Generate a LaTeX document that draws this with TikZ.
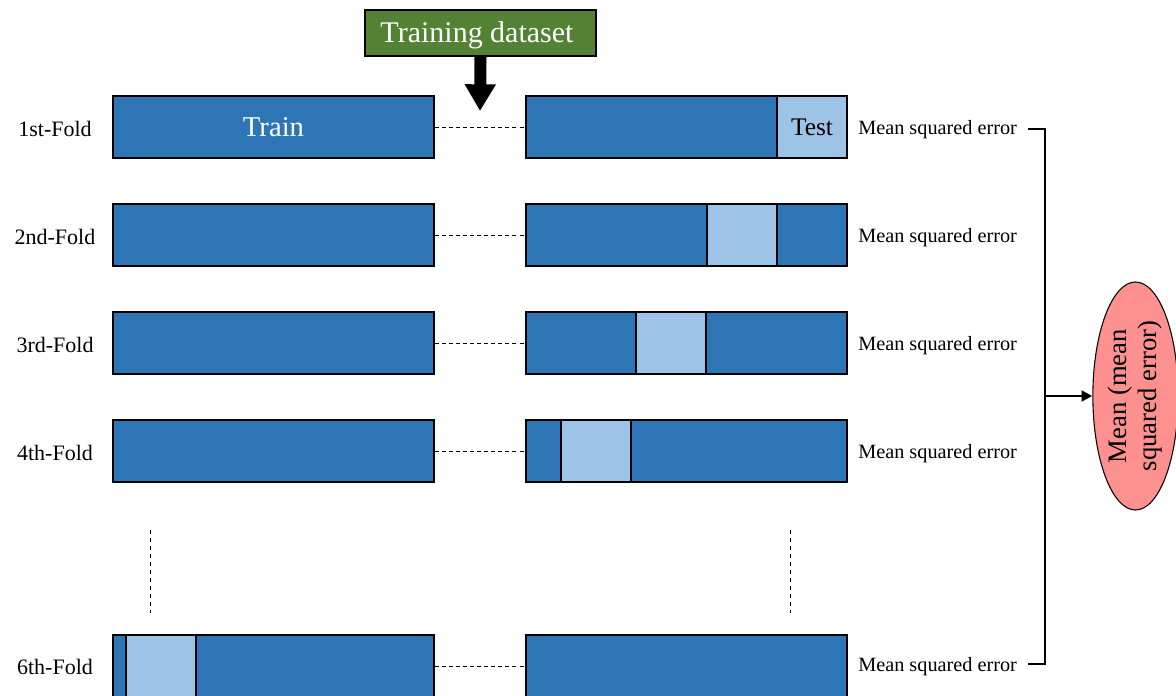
\documentclass[tikz,border=0pt]{standalone}
\usepackage{fontspec}
\setmainfont{Liberation Serif}
\usetikzlibrary{shapes.geometric,arrows.meta}
\definecolor{dblue}{HTML}{2E75B6}
\definecolor{lblue}{HTML}{9DC3E6}
\definecolor{dgreen}{HTML}{548235}
\definecolor{salmon}{HTML}{FF9090}
\tikzset{
  px/.style={x=0.75pt,y=-0.75pt},
  bigbox/.style={draw=black,line width=1.1pt,fill=dblue,minimum width=240.75pt,minimum height=46.5pt,inner sep=0pt},
  testbox/.style={draw=black,line width=1.1pt,fill=lblue,minimum width=52.5pt,minimum height=46.5pt,inner sep=0pt},
  foldlbl/.style={font=\fontsize{16.5}{18}\selectfont,inner sep=0pt},
  mselbl/.style={font=\fontsize{15.2}{16}\selectfont,inner sep=0pt,anchor=west},
  link/.style={line width=0.7pt,dash pattern=on 3pt off 2.3pt},
  vdots/.style={line width=0.7pt,dash pattern=on 3pt off 3pt},
}
\begin{document}
\begin{tikzpicture}[px]
\clip (0,0) rectangle (1176,695);
\useasboundingbox (0,0) rectangle (1176,695);
% training dataset
\node[draw=black,line width=0.8pt,fill=dgreen,minimum width=173.25pt,minimum height=34.5pt,inner sep=0pt] (td) at (480.5,33) {};
\node[text=white,anchor=base,inner sep=0pt,font=\fontsize{22.5}{24}\selectfont] (tdtext) at (477,43) {Training dataset};
\coordinate (tip) at (480,111);
\draw[line width=9pt,-{Triangle[width=22pt,length=20pt]}] (td.south) -- (tip);
% rows 1-4
\foreach \i/\y/\t/\lab in {1/127/812/1st-Fold,2/235/742/2nd-Fold,3/343/671/3rd-Fold,4/451/596/4th-Fold}{
  \node[foldlbl] (f\i) at (55,\y+2) {\lab};
  \node[bigbox] (L\i) at (273.5,\y) {};
  \node[bigbox] (R\i) at (686.5,\y) {};
  \node[testbox] (T\i) at (\t,\y) {};
  \draw[link] (L\i.east) -- (R\i.west);
  \node[mselbl] (m\i) at (858,\y+3) {Mean squared error};
}
\node[text=white,font=\fontsize{21.5}{23}\selectfont,anchor=base,inner sep=0pt] (train) at (273.5,137) {Train};
\node[font=\fontsize{19}{21}\selectfont,anchor=base,inner sep=0pt] (test) at (812,136) {Test};
% row 6
\node[foldlbl] (f6) at (55,667) {6th-Fold};
\node[bigbox] (L6) at (273.5,666) {};
\node[testbox] (T6) at (161,666) {};
\node[bigbox] (R6) at (686.5,666) {};
\draw[link] (L6.east) -- (R6.west);
\node[mselbl] (m6) at (858,667) {Mean squared error};
% vertical dots
\coordinate (va1) at (150,530); \coordinate (vb1) at (150,613);
\coordinate (va2) at (790,530); \coordinate (vb2) at (790,613);
\draw[vdots] (va1) -- (vb1);
\draw[vdots] (va2) -- (vb2);
% bracket
\coordinate (s1) at (1028,129);
\coordinate (c1) at (1045,129);
\coordinate (c6) at (1045,664);
\coordinate (s6) at (1028,664);
\coordinate (bm) at (1045,396);
\draw[line width=0.8pt] (s1) -- (c1) -- (c6) -- (s6);
\node[ellipse,draw=black,line width=0.8pt,fill=salmon,minimum width=64pt,minimum height=171pt,inner sep=0pt] (ell) at (1135.5,396) {};
\node[rotate=90,align=center,font=\fontsize{20}{22.5}\selectfont] (elltext) at (ell.center) {Mean (mean\\squared error)};
\draw[line width=1.8pt,-{Triangle[width=8pt,length=8pt]}] (bm) -- (ell.west);
\end{tikzpicture}
\end{document}
